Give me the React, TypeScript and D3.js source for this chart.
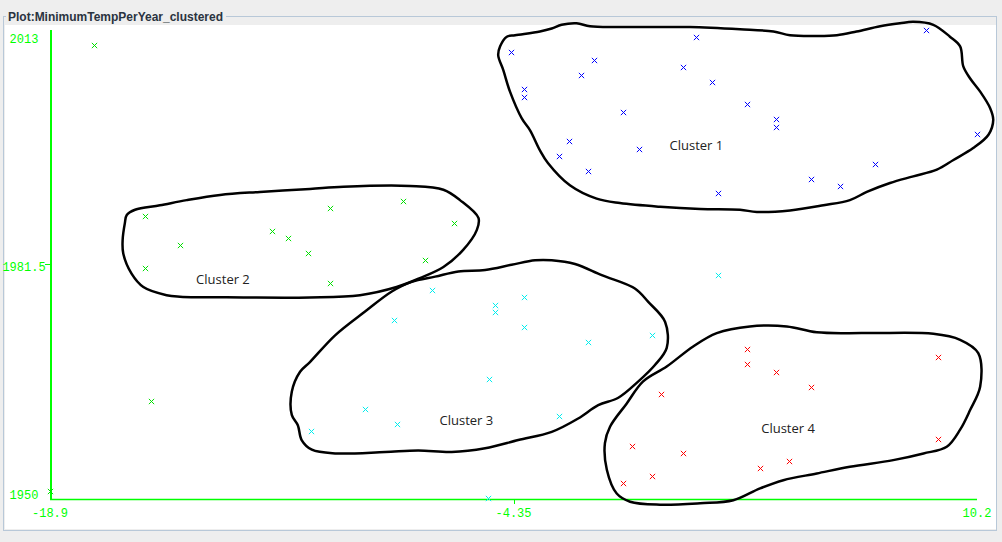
import React, { useEffect, useRef } from 'react';
import * as d3 from 'd3';

// axis ticks
const xTicks = [-18.9, -4.35, 10.2];
const xTickLabels = ['-18.9', '-4.35', '10.2'];
const yearTicks = [1950, 1981.5, 2013];
const yearTickLabels = ['1950', '1981.5', '2013'];

// points: [minimum temp, year]
const cluster1Points = [
  [-4.42, 2010], [-1.81, 2009], [-2.23, 2007], [-4.02, 2005], [-4.02, 2004], [-0.9, 2002],
  [-2.61, 1998], [-2.92, 1996], [-2.01, 1994], [-0.41, 1997], [1.38, 2012], [0.97, 2008],
  [1.89, 2006], [2.08, 1991], [8.61, 2013], [2.99, 2003], [3.9, 2001], [3.9, 2000],
  [10.2, 1999], [7.01, 1995], [4.99, 1993], [5.91, 1992],
];
const cluster2Points = [
  [-15.91, 1988], [-15.91, 1981], [-14.81, 1984], [-11.92, 1986], [-11.42, 1985], [-10.79, 1983],
  [-10.11, 1989], [-10.11, 1979], [-7.81, 1990], [-6.21, 1987], [-7.12, 1982],
  [-17.51, 2011], [-15.72, 1963], [-18.9, 1951],
];
const cluster3Points = [
  [-6.9, 1978], [-8.09, 1974], [-4.92, 1976], [-4.92, 1975], [-4.01, 1977], [-4.01, 1973],
  [-2.0, 1971], [0.01, 1972], [-5.11, 1966], [-9.0, 1962], [-8.0, 1960], [-2.91, 1961],
  [-10.7, 1959], [-5.15, 1950], [2.08, 1980],
];
const cluster4Points = [
  [2.99, 1970], [2.99, 1968], [3.9, 1967], [4.99, 1965], [0.29, 1964], [8.99, 1969],
  [8.99, 1958], [-0.62, 1957], [0.98, 1956], [4.31, 1955], [3.4, 1954], [0.01, 1953],
  [-0.9, 1952],
];

// hand drawn outlines round each cluster, in data units
const cluster1Outline = [
  [-4.83, 2009.6], [-4.77, 2010.8], [-4.56, 2012.1], [-4.3, 2012.3], [-3.52, 2012.8], [-3.15, 2013.2],
  [-2.84, 2013.7], [-2.37, 2013.9], [-1.95, 2013.5], [-1.11, 2013.4], [-0.17, 2013.4], [1.19, 2013.4],
  [2.76, 2013.1], [3.81, 2012.8], [4.33, 2012.3], [5.17, 2012.2], [5.8, 2012.3], [6.42, 2012.8],
  [7.16, 2013.5], [7.78, 2013.9], [8.2, 2014.1], [8.83, 2013.7], [9.35, 2012.1], [9.67, 2010.8],
  [9.77, 2008.1], [9.98, 2006.5], [10.3, 2004.7], [10.61, 2002.5], [10.71, 2000.9], [10.56, 1998.9],
  [10.08, 1997.1], [9.46, 1995.5], [8.94, 1994.2], [8.2, 1993.3], [7.47, 1992.4], [6.74, 1991.2],
  [6.21, 1990.1], [5.38, 1989.4], [4.33, 1988.7], [3.29, 1988.5], [2.76, 1988.8], [1.51, 1988.9],
  [0.25, 1989.2], [-1.01, 1989.7], [-1.74, 1990.3], [-2.58, 1992.1], [-3.27, 1995.1], [-3.52, 1996.8],
  [-3.83, 1999.5], [-4.09, 2001.1], [-4.46, 2004.7], [-4.67, 2007.6],
];
const cluster2Outline = [
  [-16.55, 1987.0], [-16.49, 1988.1], [-16.23, 1988.8], [-15.45, 1989.4], [-14.61, 1990.1],
  [-13.56, 1990.8], [-12.31, 1991.2], [-10.74, 1991.6], [-9.69, 1991.9], [-7.6, 1992.0],
  [-6.55, 1991.5], [-6.03, 1990.1], [-5.45, 1987.7], [-5.5, 1986.1], [-5.93, 1983.4],
  [-6.55, 1981.1], [-7.29, 1979.6], [-8.02, 1978.4], [-9.17, 1977.3], [-10.74, 1977.0],
  [-12.83, 1977.0], [-14.82, 1977.1], [-15.24, 1977.3], [-15.97, 1978.4], [-16.34, 1980.2],
  [-16.6, 1982.9], [-16.62, 1984.7],
];
const cluster3Outline = [
  [-3.67, 1982.0], [-3.15, 1982.0], [-2.42, 1981.5], [-1.58, 1980.0], [-0.54, 1978.2], [-0.12, 1976.4],
  [0.41, 1973.7], [0.46, 1970.2], [0.09, 1967.9], [-0.43, 1965.7], [-1.06, 1963.5], [-1.69, 1962.5],
  [-2.32, 1960.7], [-3.15, 1958.9], [-4.2, 1957.8], [-5.24, 1956.7], [-6.29, 1956.2], [-7.34, 1956.4],
  [-8.38, 1956.2], [-9.95, 1956.0], [-10.68, 1956.5], [-11.0, 1957.8], [-11.12, 1959.8],
  [-11.31, 1961.2], [-11.31, 1964.3], [-11.05, 1967.0], [-10.74, 1968.3], [-9.95, 1971.9],
  [-9.01, 1975.1], [-8.17, 1977.8], [-7.55, 1979.1], [-6.81, 1979.8], [-6.08, 1980.5],
  [-5.24, 1980.7], [-4.41, 1981.4],
];
const cluster4Outline = [
  [3.07, 1973.1], [4.23, 1973.1], [5.17, 1972.3], [6.74, 1972.2], [8.83, 1972.1], [9.67, 1971.3],
  [10.24, 1969.5], [10.3, 1965.0], [9.98, 1961.8], [9.67, 1959.2], [9.25, 1956.9], [8.52, 1956.0],
  [7.57, 1955.1], [6.21, 1954.2], [5.17, 1953.3], [4.12, 1952.4], [3.39, 1951.3], [2.55, 1949.7],
  [1.51, 1949.3], [0.25, 1949.1], [-0.69, 1949.5], [-1.11, 1950.6], [-1.42, 1953.8], [-1.48, 1957.4],
  [-1.32, 1959.6], [-0.8, 1962.7], [-0.28, 1965.7], [0.46, 1967.7], [1.29, 1970.4], [2.03, 1972.2],
];

const clusterNames = ['Cluster 1', 'Cluster 2', 'Cluster 3', 'Cluster 4'];
const clusterLabelPos = [[1.39, 1997.4], [-13.47, 1979.4], [-5.83, 1960.4], [4.27, 1959.4]];
const clusterColors = ['#0000ff', '#00e000', '#00eeee', '#ff0000'];

const App = () => {
  const svgRef = useRef(null);

  useEffect(() => {
    const width = 1002;
    const height = 542;
    const axisColor = '#00ff00';

    const svg = d3.select(svgRef.current)
      .attr('width', width)
      .attr('height', height);
    svg.selectAll('*').remove();

    // window background and titled panel
    svg.append('rect').attr('width', width).attr('height', height).attr('fill', '#eeeeee');
    svg.append('rect')
      .attr('x', 3.5).attr('y', 16.5).attr('width', 993).attr('height', 514)
      .attr('fill', 'none').attr('stroke', '#b8c8d8');
    svg.append('rect').attr('x', 6).attr('y', 8).attr('width', 220).attr('height', 14).attr('fill', '#eeeeee');
    svg.append('text')
      .attr('x', 8).attr('y', 21)
      .attr('font-family', 'Liberation Sans, Arial, sans-serif')
      .attr('font-size', 12).attr('font-weight', 'bold')
      .attr('fill', '#2a3340')
      .attr('textLength', 215).attr('lengthAdjust', 'spacingAndGlyphs')
      .text('Plot:MinimumTempPerYear_clustered');
    svg.append('rect').attr('x', 5).attr('y', 25).attr('width', 991).attr('height', 504).attr('fill', '#ffffff');

    const x = d3.scaleLinear().domain([-18.9, 10.2]).range([50, 977]);
    const y = d3.scaleLinear().domain([1950, 2013]).range([498, 30]);

    // axes
    const axisG = svg.append('g');
    axisG.append('line')
      .attr('x1', 51).attr('x2', 51).attr('y1', y(2013)).attr('y2', 500)
      .attr('stroke', axisColor).attr('stroke-width', 2);
    axisG.append('line')
      .attr('x1', 50).attr('x2', x(10.2)).attr('y1', 499.5).attr('y2', 499.5)
      .attr('stroke', axisColor).attr('stroke-width', 1.5);

    // tick marks only show for the inner ticks
    const innerYear = yearTicks.slice(1, -1);
    const innerX = xTicks.slice(1, -1);

    axisG.selectAll('.ytick')
      .data(innerYear)
      .join('line')
      .attr('x1', 45).attr('x2', 50)
      .attr('y1', d => Math.round(y(d)) + 0.5).attr('y2', d => Math.round(y(d)) + 0.5)
      .attr('stroke', axisColor);
    axisG.selectAll('.ylabel')
      .data(yearTicks)
      .join('text')
      .attr('x', 24)
      .attr('y', d => Math.min(Math.max(y(d) + 7, 43), 499))
      .attr('text-anchor', 'middle')
      .attr('font-family', 'Liberation Mono, monospace')
      .attr('font-size', 12)
      .attr('fill', axisColor)
      .text((d, i) => yearTickLabels[i]);

    axisG.selectAll('.xtick')
      .data(innerX)
      .join('line')
      .attr('x1', d => Math.round(x(d)) + 0.5).attr('x2', d => Math.round(x(d)) + 0.5)
      .attr('y1', 499).attr('y2', 504)
      .attr('stroke', axisColor);
    axisG.selectAll('.xlabel')
      .data(xTicks)
      .join('text')
      .attr('x', d => x(d))
      .attr('y', 517)
      .attr('text-anchor', 'middle')
      .attr('font-family', 'Liberation Mono, monospace')
      .attr('font-size', 12)
      .attr('fill', axisColor)
      .text((d, i) => xTickLabels[i]);

    // cluster outlines
    const outline = d3.line()
      .x(d => x(d[0]))
      .y(d => y(d[1]))
      .curve(d3.curveCatmullRomClosed.alpha(0.5));

    svg.append('g')
      .selectAll('path')
      .data([cluster1Outline, cluster2Outline, cluster3Outline, cluster4Outline])
      .join('path')
      .attr('d', outline)
      .attr('fill', 'none')
      .attr('stroke', '#000')
      .attr('stroke-width', 2.5);

    // points
    const marker = d3.symbol().type(d3.symbolX).size(20);
    [cluster1Points, cluster2Points, cluster3Points, cluster4Points].forEach((pts, i) => {
      svg.append('g')
        .selectAll('path')
        .data(pts)
        .join('path')
        .attr('d', marker)
        .attr('transform', d => `translate(${Math.round(x(d[0])) + 0.5},${Math.round(y(d[1])) + 0.5})`)
        .attr('fill', 'none')
        .attr('stroke', clusterColors[i])
        .attr('stroke-width', 1);
    });

    // cluster labels
    svg.append('g')
      .selectAll('text')
      .data(clusterLabelPos)
      .join('text')
      .attr('x', d => x(d[0]))
      .attr('y', d => y(d[1]))
      .attr('dy', '0.35em')
      .attr('text-anchor', 'middle')
      .attr('font-family', 'Open Sans, sans-serif')
      .attr('font-size', 13)
      .attr('fill', '#222')
      .text((d, i) => clusterNames[i]);
  }, []);

  return (
    <div style={{ position: 'absolute', left: 0, top: 0 }}>
      <svg ref={svgRef} style={{ display: 'block' }}></svg>
    </div>
  );
};

export default App;
